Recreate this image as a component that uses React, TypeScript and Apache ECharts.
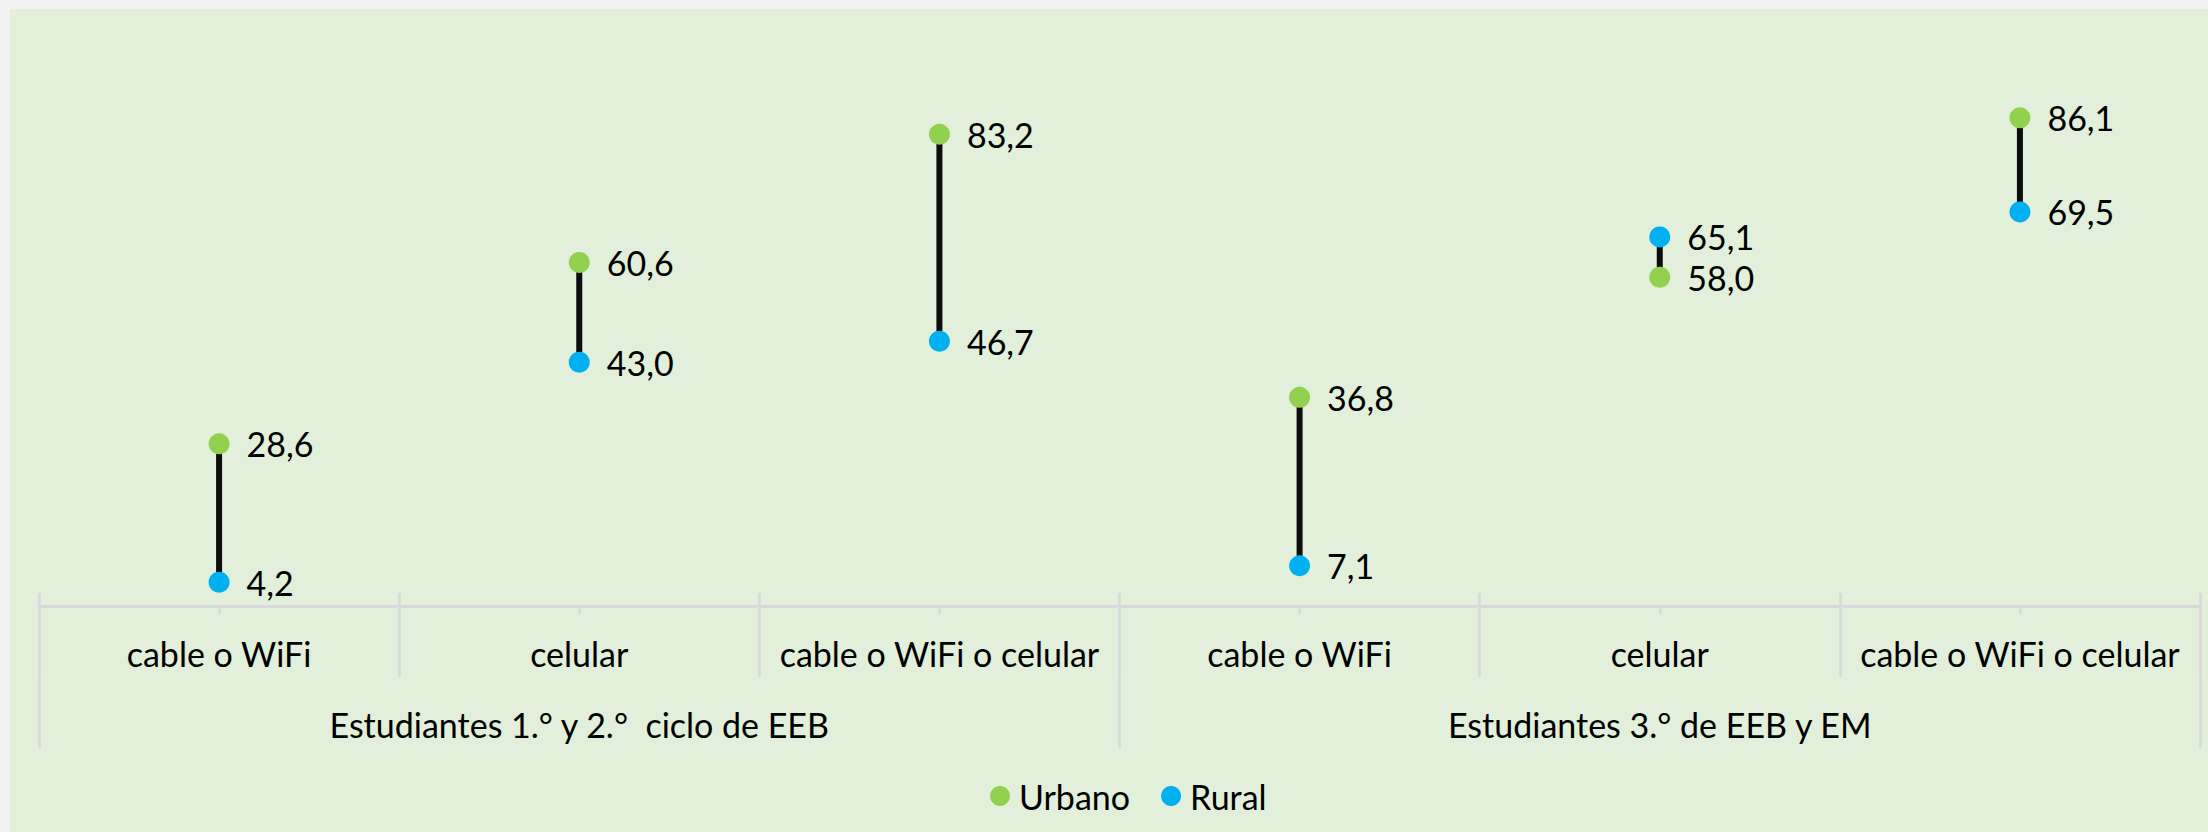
import React, { useEffect, useRef } from "react";
import * as echarts from "echarts";

const categories = [
  "cable o WiFi",
  "celular",
  "cable o WiFi o celular",
  "cable o WiFi",
  "celular",
  "cable o WiFi o celular",
];
const groups = ["Estudiantes 1.° y 2.°  ciclo de EEB", "Estudiantes 3.° de EEB y EM"];
const urbano = [28.6, 60.6, 83.2, 36.8, 58.0, 86.1];
const rural = [4.2, 43.0, 46.7, 7.1, 65.1, 69.5];
const seriesNames = ["Urbano", "Rural"];

const FONT = "Lato, 'Open Sans', sans-serif";
const FS = 34;
const AXIS_COLOR = "#d9d9d9";

export default function App() {
  const ref = useRef<HTMLDivElement>(null);
  useEffect(() => {
    if (!ref.current) return;
    const chart = echarts.init(ref.current, undefined, { renderer: "svg" });
    const fmt = (p: any) => Number(p.value).toFixed(1).replace(".", ",");
    const baseAxis = {
      type: "category",
      position: "bottom",
      boundaryGap: true,
      gridIndex: 0,
      splitLine: { show: false },
    };
    const labelStyle = {
      show: true,
      position: "right",
      distance: 17,
      formatter: fmt,
      fontFamily: FONT,
      fontSize: FS,
      color: "#000",
    };
    chart.setOption({
      animation: false,
      backgroundColor: "#e2efda",
      textStyle: { fontFamily: FONT },
      grid: { left: 29, right: 8, top: 30, bottom: 226, containLabel: false },
      legend: {
        data: seriesNames,
        icon: "circle",
        itemWidth: 20,
        itemHeight: 20,
        itemGap: 31,
        left: 975,
        top: 765,
        textStyle: {
          fontFamily: FONT,
          fontSize: FS,
          lineHeight: 34,
          color: "#000",
          padding: [0, 0, 0, 4],
        },
      },
      xAxis: [
        {
          ...baseAxis,
          data: categories,
          axisLine: { show: true, lineStyle: { color: AXIS_COLOR, width: 3 } },
          axisTick: {
            show: true,
            interval: 0,
            length: 71,
            lineStyle: { color: AXIS_COLOR, width: 2.5 },
          },
          axisLabel: {
            interval: 0,
            margin: 30,
            fontFamily: FONT,
            fontSize: FS,
            lineHeight: 34,
            color: "#000",
          },
        },
        {
          ...baseAxis,
          data: categories,
          axisLine: { show: false },
          axisTick: {
            show: true,
            interval: 0,
            inside: true,
            length: 13,
            lineStyle: { color: AXIS_COLOR, width: 2.5 },
          },
          axisLabel: { show: false },
        },
        {
          ...baseAxis,
          data: categories,
          axisLine: { show: false },
          axisTick: {
            show: true,
            interval: 0,
            alignWithLabel: true,
            length: 8,
            lineStyle: { color: AXIS_COLOR, width: 2.5 },
          },
          axisLabel: { show: false },
        },
        {
          ...baseAxis,
          data: groups,
          axisLine: { show: false },
          axisTick: {
            show: true,
            interval: 0,
            length: 142,
            lineStyle: { color: AXIS_COLOR, width: 2.5 },
          },
          axisLabel: {
            interval: 0,
            margin: 101,
            fontFamily: FONT,
            fontSize: FS,
            lineHeight: 34,
            color: "#000",
          },
        },
      ],
      yAxis: {
        type: "value",
        min: 0,
        max: 100,
        show: false,
        splitLine: { show: false },
      },
      series: [
        {
          type: "custom",
          xAxisIndex: 0,
          yAxisIndex: 0,
          z: 1,
          silent: true,
          data: categories.map((_, i) => [i, urbano[i], rural[i]]),
          encode: { x: 0, y: [1, 2] },
          renderItem: (params: any, api: any) => {
            const i = api.value(0);
            const p1 = api.coord([i, api.value(1)]);
            const p2 = api.coord([i, api.value(2)]);
            return {
              type: "line",
              shape: { x1: p1[0], y1: p1[1], x2: p2[0], y2: p2[1] },
              style: { stroke: "#0d0d0d", lineWidth: 6 },
            };
          },
        },
        {
          name: seriesNames[0],
          type: "scatter",
          xAxisIndex: 0,
          yAxisIndex: 0,
          z: 3,
          symbol: "circle",
          symbolSize: 21,
          itemStyle: { color: "#92d050", opacity: 1 },
          data: urbano,
          label: labelStyle,
        },
        {
          name: seriesNames[1],
          type: "scatter",
          xAxisIndex: 0,
          yAxisIndex: 0,
          z: 3,
          symbol: "circle",
          symbolSize: 21,
          itemStyle: { color: "#00b0f0", opacity: 1 },
          data: rural,
          label: labelStyle,
        },
      ],
    });
    return () => chart.dispose();
  }, []);
  return (
    <div
      style={{
        position: "fixed",
        left: 0,
        top: 0,
        width: 2208,
        height: 832,
        background: "#f2f2f2",
      }}
    >
      <div
        ref={ref}
        style={{ position: "absolute", left: 10, top: 9, width: 2198, height: 823 }}
      />
    </div>
  );
}
